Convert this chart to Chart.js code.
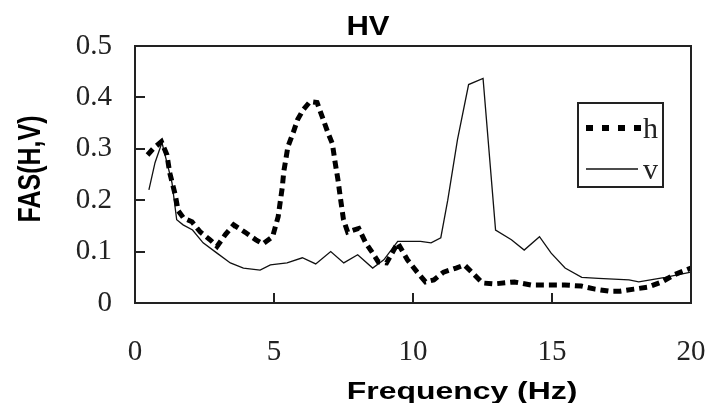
<!DOCTYPE html>
<html>
<head>
<meta charset="utf-8">
<script src="https://cdn.jsdelivr.net/npm/chart.js@4.4.1/dist/chart.umd.min.js"></script>
<style>
  html, body { margin: 0; padding: 0; background: #fff; }
</style>
</head>
<body>
<canvas id="hvChart" width="706" height="403"></canvas>
<script>
    "use strict";

    // h component (dashed)
    const hFreq = [0.45, 0.65, 0.95, 1.15, 1.25, 1.45, 1.55, 1.75, 2.05, 2.35, 2.7, 2.95, 3.25, 3.55, 3.95,
        4.35, 4.6, 4.95, 5.15, 5.3, 5.35, 5.5, 5.7, 5.85, 6.05, 6.3, 6.55, 6.75, 6.95, 7.1, 7.2, 7.3, 7.4,
        7.5, 7.65, 8.05, 8.3, 8.55, 8.75, 9.05, 9.45, 9.8, 10.15, 10.45, 10.75, 11.1, 11.55, 11.85, 12.15,
        12.5, 12.9, 13.65, 14.25, 14.85, 15.45, 16.05, 16.55, 17.05, 17.45, 17.95, 18.45, 18.95, 19.4, 20.0];
    const hAmp = [0.288, 0.30, 0.314, 0.288, 0.253, 0.21, 0.18, 0.165, 0.158, 0.138, 0.123, 0.11, 0.133, 0.152, 0.138,
        0.123, 0.115, 0.129, 0.168, 0.226, 0.255, 0.304, 0.333, 0.357, 0.376, 0.392, 0.39, 0.36, 0.33, 0.31, 0.273, 0.24, 0.2,
        0.162, 0.138, 0.145, 0.117, 0.097, 0.08, 0.078, 0.117, 0.084, 0.06, 0.041, 0.045, 0.06, 0.068, 0.074, 0.058,
        0.039, 0.037, 0.041, 0.035, 0.035, 0.035, 0.033, 0.027, 0.023, 0.023, 0.027, 0.031, 0.041, 0.055, 0.068];

    // v component (solid)
    const vFreq = [0.5, 0.72, 0.97, 1.15, 1.33, 1.5, 1.73, 2.07, 2.45, 2.95, 3.43, 3.9, 4.5, 4.87, 5.47,
        6.02, 6.5, 7.04, 7.51, 8.01, 8.55, 8.95, 9.45, 10.27, 10.65, 11.0, 11.25, 11.6, 12.0, 12.52,
        12.97, 13.54, 14.0, 14.55, 14.97, 15.47, 16.07, 16.67, 17.77, 18.12, 19.07, 20.0];
    const vAmp = [0.22, 0.273, 0.312, 0.273, 0.234, 0.162, 0.152, 0.142, 0.117, 0.097, 0.078, 0.068, 0.064, 0.074, 0.078,
        0.088, 0.076, 0.1, 0.078, 0.094, 0.068, 0.084, 0.12, 0.12, 0.117, 0.127, 0.2, 0.318, 0.425, 0.437,
        0.142, 0.123, 0.103, 0.129, 0.097, 0.068, 0.05, 0.048, 0.045, 0.041, 0.05, 0.06];

    const xTickValues = [0, 5, 10, 15, 20];
    const yTickValues = [0, 0.1, 0.2, 0.3, 0.4, 0.5];

    const seriesLabels = ['h', 'v'];
    const chartTitle = 'HV';
    const xTitle = 'Frequency (Hz)';
    const yTitle = 'FAS(H,V)';

    const toPoints = (xs, ys) => xs.map((x, i) => ({ x: x, y: ys[i] }));

    const tickFont = { family: 'Liberation Serif', size: 29 };

    // draws the frame, inward ticks, titles and the boxed legend
    const decorations = {
        id: 'decorations',
        afterDraw(chart) {
            const { ctx, chartArea: a, scales } = chart;
            ctx.save();

            ctx.strokeStyle = '#222';
            ctx.lineWidth = 2;
            ctx.setLineDash([]);
            ctx.strokeRect(a.left, a.top, a.right - a.left, a.bottom - a.top);

            ctx.beginPath();
            yTickValues.slice(1, -1).forEach(v => {
                const py = Math.round(scales.y.getPixelForValue(v));
                ctx.moveTo(a.left, py);
                ctx.lineTo(a.left + 10, py);
            });
            xTickValues.slice(1, -1).forEach(v => {
                const px = Math.round(scales.x.getPixelForValue(v));
                ctx.moveTo(px, a.bottom);
                ctx.lineTo(px, a.bottom - 10);
            });
            ctx.stroke();

            ctx.fillStyle = '#000';
            ctx.textAlign = 'center';
            ctx.textBaseline = 'alphabetic';

            // chart title
            ctx.save();
            ctx.font = 'bold 27px "Liberation Sans"';
            ctx.translate(368, 35);
            ctx.scale(1.15, 1);
            ctx.fillText(chartTitle, 0, 0);
            ctx.restore();

            // x title
            ctx.save();
            ctx.font = 'bold 24px "Liberation Sans"';
            ctx.translate(462, 399);
            ctx.scale(1.33, 1);
            ctx.fillText(xTitle, 0, 0);
            ctx.restore();

            // y title
            ctx.save();
            ctx.font = 'bold 25px "Liberation Sans"';
            ctx.translate(40, 169);
            ctx.scale(1.25, 1);
            ctx.rotate(-Math.PI / 2);
            ctx.fillText(yTitle, 0, 0);
            ctx.restore();

            // legend box
            ctx.lineWidth = 2;
            ctx.strokeStyle = '#222';
            ctx.strokeRect(578, 103, 85, 84);
            const rows = [128, 169];
            chart.data.datasets.forEach((ds, i) => {
                const ly = rows[i];
                ctx.beginPath();
                ctx.strokeStyle = ds.borderColor;
                ctx.lineWidth = i === 0 ? 6 : 1.5;
                ctx.setLineDash(i === 0 ? [7, 9] : []);
                ctx.moveTo(586, ly);
                ctx.lineTo(i === 0 ? 641 : 638, ly);
                ctx.stroke();
                ctx.setLineDash([]);
                ctx.font = '30px "Liberation Serif"';
                ctx.textAlign = 'left';
                ctx.fillStyle = '#222';
                ctx.fillText(ds.label, 643, ly + 10);
            });

            ctx.restore();
        }
    };

    const ctx = document.getElementById('hvChart');

    new Chart(ctx, {
        type: 'line',
        data: {
            datasets: [
                {
                    label: seriesLabels[0],
                    data: toPoints(hFreq, hAmp),
                    borderColor: '#000',
                    borderWidth: 5,
                    borderDash: [8, 5],
                    borderCapStyle: 'butt',
                    pointRadius: 0,
                    tension: 0,
                    fill: false
                },
                {
                    label: seriesLabels[1],
                    data: toPoints(vFreq, vAmp),
                    borderColor: '#111',
                    borderWidth: 1.3,
                    pointRadius: 0,
                    tension: 0,
                    fill: false
                }
            ]
        },
        options: {
            responsive: false,
            animation: false,
            layout: { padding: { top: 46, right: 15, left: 0, bottom: 0 } },
            scales: {
                x: {
                    type: 'linear',
                    min: 0,
                    max: 20,
                    afterBuildTicks: s => { s.ticks = xTickValues.map(v => ({ value: v })); },
                    afterFit: s => { s.height = 100; s.paddingLeft = 0; s.paddingRight = 0; },
                    grid: { display: false, drawTicks: false },
                    border: { display: false },
                    ticks: { font: tickFont, color: '#222', padding: 32, maxRotation: 0 }
                },
                y: {
                    min: 0,
                    max: 0.5,
                    afterBuildTicks: s => { s.ticks = yTickValues.map(v => ({ value: v })); },
                    afterFit: s => { s.width = 135; s.paddingTop = 0; s.paddingBottom = 0; },
                    grid: { display: false, drawTicks: false },
                    border: { display: false },
                    ticks: {
                        font: tickFont,
                        color: '#222',
                        padding: 23,
                        callback: v => String(+v.toFixed(1))
                    }
                }
            },
            plugins: {
                legend: { display: false },
                tooltip: { enabled: false }
            }
        },
        plugins: [decorations]
    });
</script>
</body>
</html>
